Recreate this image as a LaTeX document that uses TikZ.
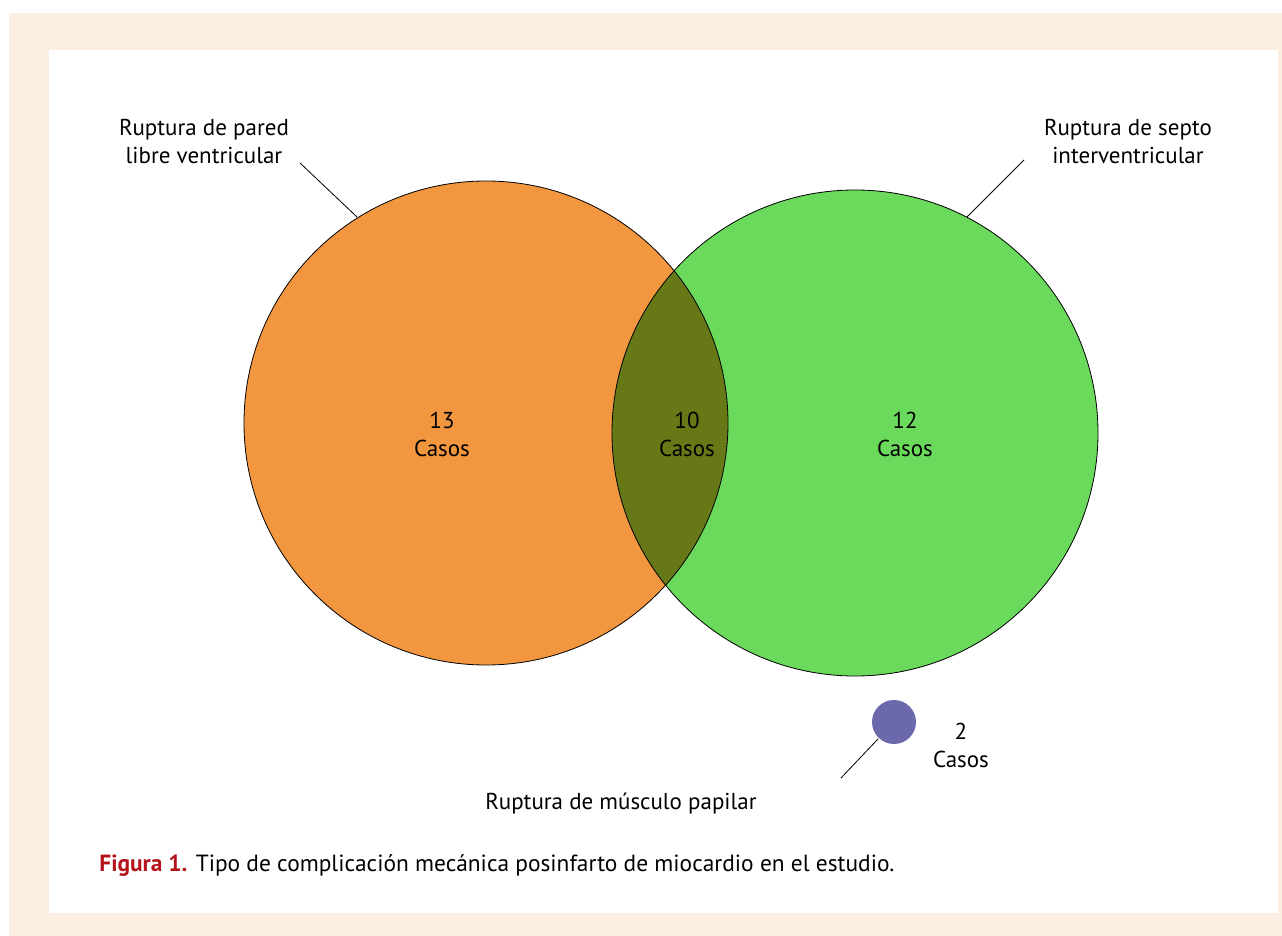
\documentclass[tikz,border=0pt]{standalone}
\usepackage{fontspec}
\setmainfont{PT Sans}
\usepackage{tikz}
\definecolor{framebeige}{RGB}{252,238,224}
\definecolor{pared}{RGB}{242,150,64}
\definecolor{septo}{RGB}{107,217,91}
\definecolor{ambos}{RGB}{103,121,23}
\definecolor{papilar}{RGB}{108,104,172}
\definecolor{figred}{RGB}{180,19,27}

\begin{document}
\begin{tikzpicture}[x=0.5pt,y=-0.5pt,
	lbl/.style={inner sep=0pt,align=center,font=\fontsize{11.5}{14}\selectfont},
	leader/.style={thin,black}]
		% frame
		\useasboundingbox (0,0) rectangle (1282,936);
		\fill[framebeige] (9,13) rectangle (1282,936);
		\fill[white] (49,50) rectangle (1278,913);
		% circles
		\fill[pared] (486,423) circle (242);
		\fill[septo] (855,433) circle (243);
		\begin{scope}
			\clip (486,423) circle (242);
			\fill[ambos] (855,433) circle (243);
		\end{scope}
		\draw[thin] (486,423) circle (242);
		\draw[thin] (855,433) circle (243);
		\fill[papilar] (894,722) circle (22);
		% counts
		\node[lbl] (n13) at (442,434) {13\\Casos};
		\node[lbl] (n10) at (687,434) {10\\Casos};
		\node[lbl] (n12) at (905,434) {12\\Casos};
		\node[lbl] (n2) at (961,745) {2\\Casos};
		% labels
		\node[lbl] (lpared) at (204,141) {Ruptura de pared\\libre ventricular};
		\node[lbl] (lsepto) at (1128,141) {Ruptura de septo\\interventricular};
		\node[lbl] (lpapilar) at (621,804) {Ruptura de m\'usculo papilar};
		\coordinate (pa) at (300,163);
		\coordinate (pb) at (357,217);
		\coordinate (sa) at (1024,160);
		\coordinate (sb) at (967,217);
		\coordinate (ma) at (841,778);
		\coordinate (mb) at (878,739);
		\draw[leader] (pa) -- (pb);
		\draw[leader] (sa) -- (sb);
		\draw[leader] (ma) -- (mb);
		% caption
		\node[inner sep=0pt,anchor=west,font=\fontsize{11.7}{14}\selectfont] (cap) at (99,866)
			{\textcolor{figred}{\textbf{Figura 1.}} Tipo de complicaci\'on mec\'anica posinfarto de miocardio en el estudio.};
\end{tikzpicture}
\end{document}
